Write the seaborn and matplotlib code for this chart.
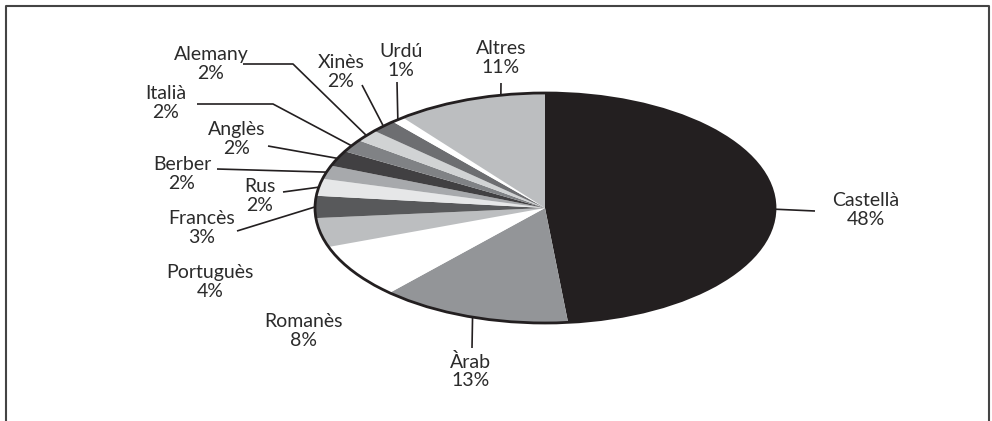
import numpy as np
import matplotlib
matplotlib.use("Agg")
import matplotlib.pyplot as plt
from matplotlib.patches import Ellipse
from matplotlib.lines import Line2D
import seaborn as sns

# Languages (clockwise from the top) and their share in percent
languages = ["Castellà", "Àrab", "Romanès", "Portuguès", "Francès", "Rus",
             "Berber", "Anglès", "Italià", "Alemany", "Xinès", "Urdú", "Altres"]
shares = [48.4, 13.4, 7.7, 4.1, 3.1, 2.4, 1.9, 2.2, 1.8, 1.7, 1.8, 0.9, 10.6]
greys = ["#231f20", "#939598", "#ffffff", "#bcbec0", "#58595b", "#e6e7e8",
         "#a7a9ac", "#414042", "#808285", "#d1d3d4", "#6d6e71", "#ffffff", "#bcbec0"]

sns.set_style("white")
plt.rcParams["font.family"] = ["Lato", "DejaVu Sans"]

W, H = 992, 421
CX, CY, RX, RY = 545, 208, 230, 115   # ellipse centre / radii in pixels
INK = "#231f20"


def px(x, y):
    # pixel position (from top-left) -> data coords
    return (x - CX) / RX, (CY - y) / RY


# label layout: text centre, leader points (pixels), where on the wedge edge the leader ends
layout = {
    "Castellà": ((866, 210), [(815, 211)], 0.52),
    "Àrab": ((471, 371), [(472, 348)], 0.5),
    "Romanès": ((304, 331), [], 0.5),
    "Portuguès": ((210, 282), [], 0.5),
    "Francès": ((202, 228), [(237, 231)], 0.5),
    "Rus": ((260, 196), [(283, 192)], 0.5),
    "Berber": ((182, 174), [(217, 169)], 0.5),
    "Anglès": ((237, 139), [(268, 146)], 0.5),
    "Italià": ((166, 103), [(197, 104), (273, 104)], 0.5),
    "Alemany": ((211, 64), [(243, 64), (293, 64)], 0.5),
    "Xinès": ((341, 72), [(362, 85)], 0.5),
    "Urdú": ((401, 61), [(397, 82)], 0.5),
    "Altres": ((501, 58), [(501, 83)], 0.71),
}

fig = plt.figure(figsize=(W / 100, H / 100), dpi=100)
ax = fig.add_axes([0, 0, 1, 1])

ax.pie(shares, colors=greys, startangle=90, counterclock=False,
       wedgeprops=dict(linewidth=0))
ax.add_patch(Ellipse((0, 0), 2, 2, fill=False, lw=2, ec=INK, zorder=3))
ax.set_aspect("auto")
ax.set_xlim(-CX / RX, (W - CX) / RX)
ax.set_ylim(-(H - CY) / RY, CY / RY)
ax.axis("off")

total = sum(shares)
cum = np.concatenate([[0], np.cumsum(shares)])
for i, lang in enumerate(languages):
    (tx, ty), pts, f = layout[lang]
    start = 90 - 360 * cum[i] / total
    end = 90 - 360 * cum[i + 1] / total
    ang = np.deg2rad(start + f * (end - start))
    ax.text(*px(tx, ty), f"{lang}\n{shares[i]:.0f}%", ha="center", va="center",
            multialignment="center", fontsize=14, color="#2b2b2b", linespacing=1.08)
    if pts:
        xs = [px(*p)[0] for p in pts] + [np.cos(ang)]
        ys = [px(*p)[1] for p in pts] + [np.sin(ang)]
        ax.plot(xs, ys, color=INK, lw=1.2, solid_capstyle="butt")

# open frame (no bottom edge)
fig.add_artist(Line2D([6 / W, 6 / W, 989 / W, 989 / W], [0, 1 - 6 / H, 1 - 6 / H, 0],
                      transform=fig.transFigure, color="#444444", lw=1.5))

fig.savefig("out.png", dpi=100, facecolor="white")
